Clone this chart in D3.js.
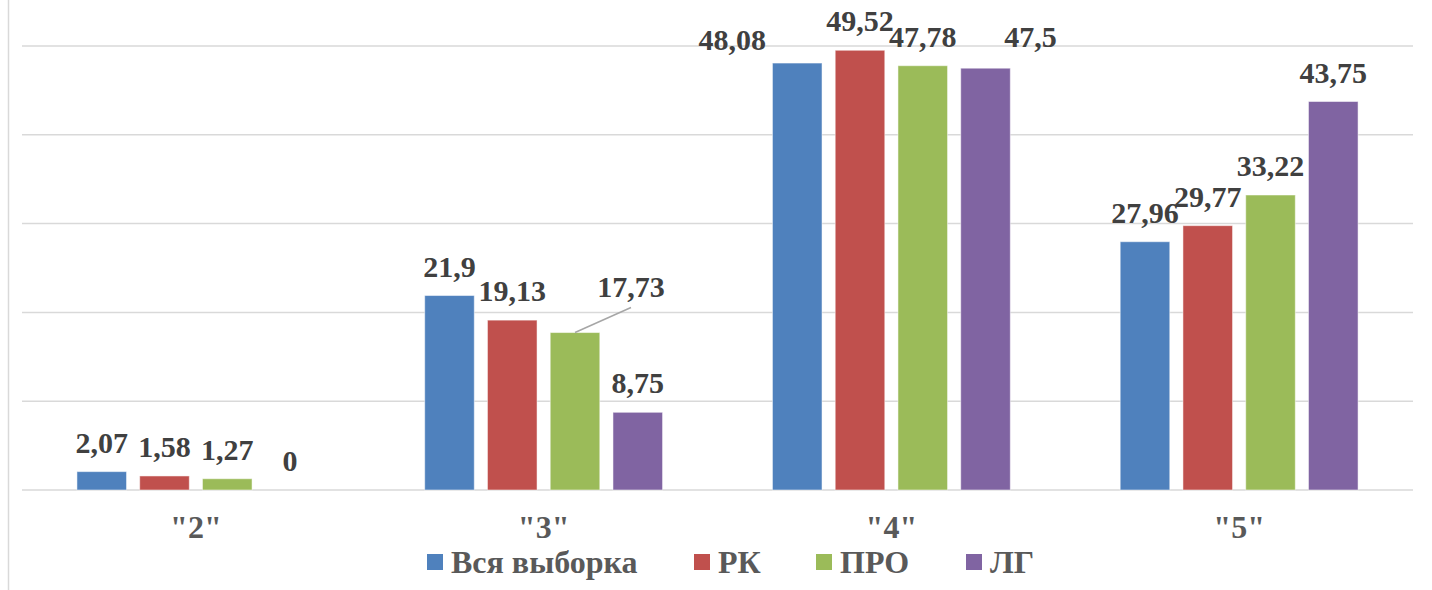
<!DOCTYPE html>
<html lang="ru">
    <head>
        <meta charset="utf-8">
        <title>Оценки</title>
        <script src="https://d3js.org/d3.v7.min.js" charset="utf-8"></script>
        <style>
        body { margin: 0; background: #fff; }
        svg text { font-family: "Times New Roman", "Liberation Serif", Tinos, "DejaVu Serif", "Noto Serif", serif; font-weight: 700; }
        .value { fill: #404040; font-size: 30px; text-anchor: middle; }
        .cat { fill: #595959; font-size: 32px; text-anchor: middle; }
        .legend text { fill: #595959; font-size: 32px; }
        .grid line { stroke: #d9d9d9; stroke-width: 1.5; }
        </style>
    </head>
    <body>
        <svg class="chart"></svg>
        <script type="text/javascript">

(function () {

  var width = 1432, height = 590;

  // data
  var categories = ['"2"', '"3"', '"4"', '"5"'];
  var seriesNames = ['Вся выборка', 'РК', 'ПРО', 'ЛГ'];
  var allSample = [2.07, 21.9, 48.08, 27.96];
  var rk = [1.58, 19.13, 49.52, 29.77];
  var pro = [1.27, 17.73, 47.78, 33.22];
  var lg = [0, 8.75, 47.5, 43.75];
  var yTicks = [0, 10, 20, 30, 40, 50];

  var seriesValues = [allSample, rk, pro, lg];
  var colours = ['#4F81BD', '#C0504D', '#9BBB59', '#8064A2'];

  // labels that were moved by hand in the original
  var labelNudge = {
    '"4"|Вся выборка': {dx: -65, dy: 6},
    '"4"|ЛГ': {dx: 45, dy: -2},
    '"3"|ПРО': {dx: 56, dy: -17, leader: true}
  };

  var rows = [];
  categories.forEach(function (c, i) {
    seriesNames.forEach(function (s, j) {
      rows.push({cat: c, series: s, value: seriesValues[j][i], colour: colours[j]});
    });
  });

  var left = 22, right = 1413, top = 46, bottom = 490;

  var svg = d3.select('.chart')
      .attr('width', width)
      .attr('height', height);

  var x0 = d3.scaleBand()
      .domain(categories)
      .range([left, right])
      .paddingInner(0.316)
      .paddingOuter(0.158);

  var x1 = d3.scaleBand()
      .domain(seriesNames)
      .range([0, x0.bandwidth()])
      .paddingInner(0.21);

  var y = d3.scaleLinear()
      .domain([0, 50])
      .range([bottom, top]);

  // left frame edge
  svg.append('line')
      .attr('x1', 8.5).attr('x2', 8.5)
      .attr('y1', 0).attr('y2', height)
      .attr('stroke', '#d9d9d9').attr('stroke-width', 1.5);

  // gridlines
  svg.append('g')
      .attr('class', 'grid')
      .selectAll('line')
      .data(yTicks)
      .enter()
      .append('line')
      .attr('x1', left).attr('x2', right)
      .attr('y1', function (d) { return y(d); })
      .attr('y2', function (d) { return y(d); });

  var barX = function (d) { return x0(d.cat) + x1(d.series); };

  svg.append('g')
      .selectAll('rect')
      .data(rows)
      .enter()
      .append('rect')
      .attr('x', barX)
      .attr('y', function (d) { return y(d.value); })
      .attr('width', x1.bandwidth())
      .attr('height', function (d) { return y(0) - y(d.value); })
      .attr('fill', function (d) { return d.colour; })
      .attr('stroke', 'rgba(255,255,255,0.5)')
      .attr('stroke-width', 1);

  // leader lines
  rows.forEach(function (d) {
    var n = labelNudge[d.cat + '|' + d.series];
    if (n && n.leader) {
      var cx = barX(d) + x1.bandwidth() / 2;
      svg.append('line')
          .attr('x1', cx).attr('y1', y(d.value))
          .attr('x2', cx + n.dx).attr('y2', y(d.value) - 25)
          .attr('stroke', '#a6a6a6').attr('stroke-width', 1.5);
    }
  });

  svg.append('g')
      .selectAll('text')
      .data(rows)
      .enter()
      .append('text')
      .attr('class', 'value')
      .attr('x', function (d) {
        var n = labelNudge[d.cat + '|' + d.series];
        return barX(d) + x1.bandwidth() / 2 + (n ? n.dx : 0);
      })
      .attr('y', function (d) {
        var n = labelNudge[d.cat + '|' + d.series];
        return y(d.value) - 19 + (n ? n.dy : 0);
      })
      .text(function (d) { return String(d.value).replace('.', ','); });

  // category labels
  svg.append('g')
      .selectAll('text')
      .data(categories)
      .enter()
      .append('text')
      .attr('class', 'cat')
      .attr('x', function (d) { return x0(d) + x0.bandwidth() / 2; })
      .attr('y', 538)
      .text(function (d) { return d; });

  // legend
  var legendX = [427, 694, 816, 966];
  var legend = svg.append('g')
      .attr('class', 'legend')
      .selectAll('g')
      .data(seriesNames)
      .enter()
      .append('g')
      .attr('transform', function (d, i) { return 'translate(' + legendX[i] + ',554)'; });

  legend.append('rect')
      .attr('width', 16).attr('height', 16)
      .attr('fill', function (d, i) { return colours[i]; });

  legend.append('text')
      .attr('x', 24)
      .attr('y', 19)
      .text(function (d) { return d; });

})();

        </script>
    </body>
</html>
